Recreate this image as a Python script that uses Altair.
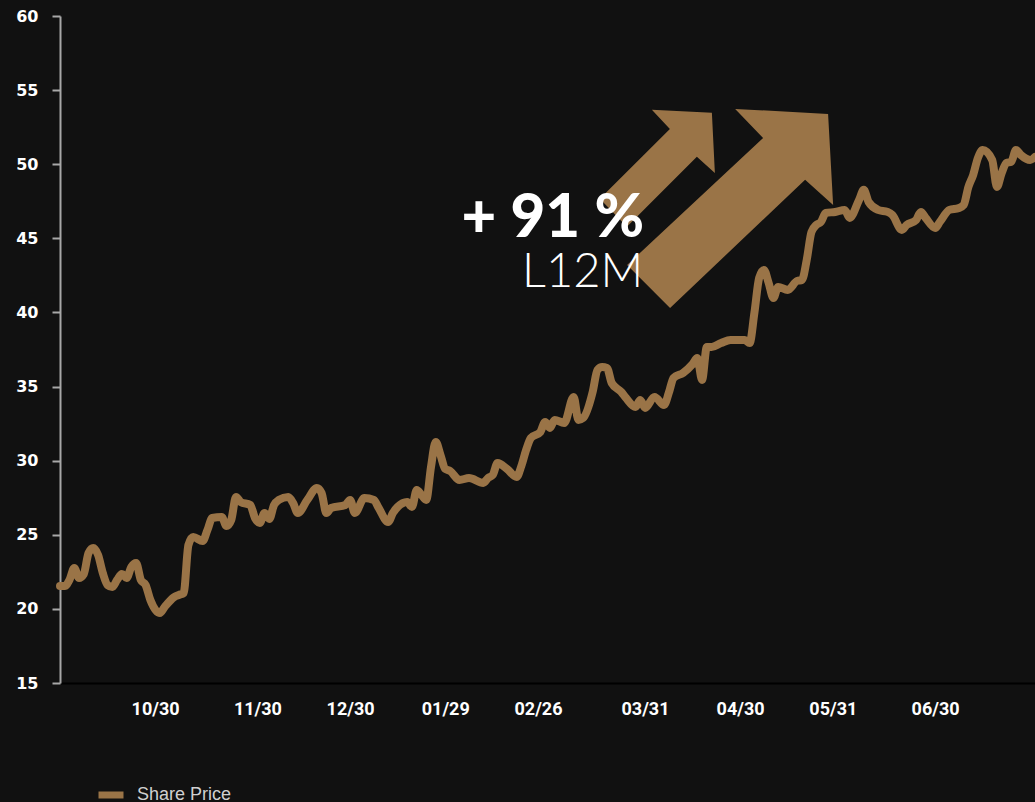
import altair as alt
import pandas as pd

# ---- data (trading-day index, share price) ----
day = [0, 1, 2, 3, 4, 5, 6, 7, 8, 9, 10, 11, 12, 13, 14, 15, 16, 17, 18, 19,
       21, 22, 24, 25, 26, 27, 28, 30, 31, 32, 34, 35, 36, 37, 38, 40, 41, 42,
       43, 44, 45, 46, 48, 49, 50, 52, 54, 55, 56, 57, 60, 61, 62, 64, 66, 67,
       69, 70, 71, 73, 74, 75, 76, 77, 78, 79, 80, 81, 82, 84, 86, 89, 90, 91,
       92, 94, 96, 97, 98, 99, 101, 102, 103, 104, 106, 108, 109, 110, 112,
       113, 114, 115, 116, 118, 119, 121, 122, 123, 125, 127, 128, 129, 131,
       133, 134, 135, 136, 137, 139, 141, 144, 145, 146, 147, 148, 149, 150,
       151, 153, 155, 156, 157, 158, 159, 160, 161, 163, 165, 166, 168, 169,
       170, 172, 174, 175, 177, 178, 180, 181, 182, 184, 185, 187, 189, 190,
       191, 192, 193, 194, 196, 197, 198, 199, 200, 201, 202, 204, 205]
price = [21.55, 21.55, 21.95, 22.76, 22.09, 22.35, 23.77, 24.11, 23.64, 22.42,
         21.61, 21.48, 21.95, 22.35, 22.09, 22.83, 23.10, 21.95, 21.61, 20.60,
         19.72, 20.13, 20.80, 20.94, 21.07, 24.31, 24.85, 24.58, 25.32, 26.13,
         26.20, 25.59, 26.00, 27.55, 27.21, 27.01, 26.13, 25.80, 26.47, 26.07,
         27.01, 27.35, 27.55, 27.15, 26.47, 27.35, 28.16, 27.82, 26.47, 26.81,
         27.01, 27.35, 26.47, 27.48, 27.35, 26.81, 25.86, 26.47, 26.88, 27.21,
         26.88, 28.02, 27.69, 27.35, 29.57, 31.26, 30.38, 29.44, 29.31, 28.70,
         28.83, 28.50, 28.83, 29.04, 29.84, 29.44, 28.90, 29.64, 30.72, 31.53,
         31.94, 32.61, 32.21, 32.75, 32.54, 34.30, 32.75, 32.88, 34.64, 36.12,
         36.32, 36.26, 35.24, 34.64, 34.23, 33.62, 34.10, 33.56, 34.30, 33.76,
         34.57, 35.58, 35.92, 36.52, 36.93, 35.45, 37.67, 37.67, 37.94, 38.14,
         38.14, 37.94, 39.97, 42.33, 42.87, 41.99, 40.98, 41.72, 41.52, 42.13,
         42.19, 43.54, 45.43, 45.90, 46.11, 46.71, 46.78, 46.92, 46.38, 47.59,
         48.27, 47.46, 46.92, 46.78, 46.58, 45.57, 45.90, 46.24, 46.78, 46.38,
         45.70, 46.11, 46.92, 47.05, 47.25, 48.47, 49.28, 50.43, 50.96, 50.29,
         48.47, 49.41, 50.09, 50.16, 50.96, 50.63, 50.29, 50.49]
series_name = "Share Price"

tick_days = [20, 41.5, 61, 81, 100.5, 123, 143, 162.5, 184]
tick_labels = ["10/30", "11/30", "12/30", "01/29", "02/26",
               "03/31", "04/30", "05/31", "06/30"]
y_ticks = [15, 20, 25, 30, 35, 40, 45, 50, 55, 60]

headline = ["+ 91 %"]
subline = ["L12M"]

# ---- styling ----
GOLD = "#9a7447"
BG = "#111111"
AXIS_GREY = "#a8a8a8"

df = pd.DataFrame({"day": day, "price": price, "series": series_name})
one = pd.DataFrame({"k": [0]})

xscale = alt.Scale(domain=[0, 205], nice=False, zero=False)
yscale = alt.Scale(domain=[15, 60], nice=False, zero=False)

label_expr = ("[" + ",".join(f"'{t}'" for t in tick_labels) + "][indexof(["
              + ",".join(str(d) for d in tick_days) + "], datum.value)]")

line = alt.Chart(df).mark_line(
    strokeWidth=8, strokeCap="round", strokeJoin="round", interpolate="monotone"
).encode(
    x=alt.X("day:Q", scale=xscale, axis=alt.Axis(
        values=tick_days, labelExpr=label_expr, title=None, ticks=False,
        grid=False, domainColor="#000000", domainWidth=2,
        labelColor="#ffffff", labelFont="Liberation Sans Narrow, Roboto, sans-serif",
        labelFontSize=18, labelFontWeight="bold", labelPadding=17,
        labelFlush=False, labelOverlap=False)),
    y=alt.Y("price:Q", scale=yscale, axis=alt.Axis(
        values=y_ticks, title=None, grid=False, domainColor=AXIS_GREY,
        domainWidth=2, tickColor=AXIS_GREY, tickWidth=2, tickSize=8,
        labelColor="#ffffff", labelFont="DejaVu Sans", labelFontSize=16,
        labelFontWeight="bold", labelPadding=14)),
    color=alt.Color("series:N", scale=alt.Scale(domain=[series_name], range=[GOLD]),
                    legend=alt.Legend(title=None, orient="none", legendX=35,
                                      legendY=763, symbolType="stroke",
                                      symbolStrokeWidth=7, symbolSize=625,
                                      labelColor="#d0d0d0", labelFontSize=18,
                                      labelFont="Liberation Sans", labelOffset=10)),
)

arrow_small = ("M-0.983,0.521 L0.214,-0.675 L-0.094,-1 L0.932,-0.949 "
               "L0.983,0.077 L0.675,-0.197 L-0.521,1 Z")
arrow_big = ("M-1,0.549 L0.32,-0.684 L0.049,-0.966 L0.951,-0.917 "
             "L1,-0.034 L0.728,-0.277 L-0.583,0.966 Z")

a1 = alt.Chart(one).mark_point(shape=arrow_small, size=13689, filled=True,
                               opacity=1, color=GOLD, strokeWidth=0).encode(
    x=alt.datum(125.6), y=alt.datum(49.72))
a2 = alt.Chart(one).mark_point(shape=arrow_big, size=42436, filled=True,
                               opacity=1, color=GOLD, strokeWidth=0).encode(
    x=alt.datum(140.9), y=alt.datum(47.02))

t1 = alt.Chart(pd.DataFrame({"t": headline})).mark_text(
    align="right", baseline="alphabetic", font="Lato", fontSize=60,
    fontWeight=900, color="#ffffff").encode(
    text="t:N", x=alt.datum(122.8), y=alt.datum(45.1))
t2 = alt.Chart(pd.DataFrame({"t": subline})).mark_text(
    align="right", baseline="alphabetic", font="Lato", fontSize=47,
    fontWeight=300, color="#ffffff").encode(
    text="t:N", x=alt.datum(122.6), y=alt.datum(41.72))

chart = alt.layer(line, a1, a2, t1, t2).properties(
    width=975, height=667,
    padding={"left": 60, "top": 16, "right": 0, "bottom": 119},
    autosize=alt.AutoSizeParams(type="none"),
    background=BG,
).configure_view(stroke=None)

chart.save("out.html", embed_options={"renderer": "svg", "actions": False})
